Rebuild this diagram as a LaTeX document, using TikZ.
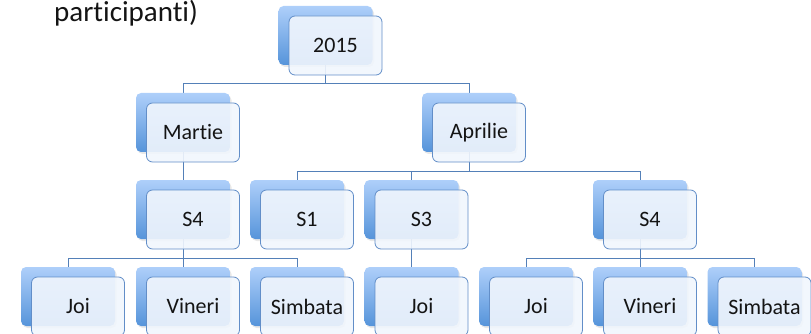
\documentclass[tikz,border=0pt]{standalone}
\usepackage{fontspec}
\setmainfont[Ligatures=NoCommon]{Carlito}
\usetikzlibrary{shadows}
\pgfdeclarelayer{bg}
\pgfsetlayers{bg,main}
\definecolor{backtop}{RGB}{174,207,250}
\definecolor{backbot}{RGB}{86,148,218}
\definecolor{frontfill}{RGB}{241,246,253}
\definecolor{frontline}{RGB}{98,142,200}
\definecolor{connline}{RGB}{84,128,184}
\definecolor{txt}{RGB}{20,20,20}
\tikzset{
  backbox/.style={rounded corners=5pt, minimum width=94pt, minimum height=59pt,
    top color=backtop, bottom color=backbot, inner sep=0pt,
    drop shadow={opacity=0.18, shadow xshift=1.5pt, shadow yshift=-2pt}},
  frontbox/.style={draw=frontline, line width=0.8pt, rounded corners=6pt,
    minimum width=93pt, minimum height=59pt, fill=frontfill, fill opacity=0.9,
    text opacity=1, text=txt, font=\fontsize{22}{26}\selectfont, inner sep=0pt},
  conn/.style={draw=connline, line width=0.9pt},
}
% one entry of the chart: shaded back card plus the labelled front card
\newcommand\orgcard[4]{%
  \node[backbox] (#1-b) at (#2,#3) {};
  \node[frontbox] (#1) at (#2+10,#3+10) {#4};
}
\begin{document}
\begin{tikzpicture}[x=1pt,y=-1pt]
\useasboundingbox (0,0) rectangle (811,334);
\clip (0,0) rectangle (811,334);

\node[anchor=base west, inner sep=0pt, text=txt, font=\fontsize{29}{34}\selectfont] (title) at (54,22) {participanti)};

% level 1
\orgcard{y2015}{325.5}{35.5}{2015}
% level 2
\orgcard{mar}{183}{122.5}{Martie}
\orgcard{apr}{469}{122.5}{Aprilie}
% level 3
\orgcard{ms4}{183}{209.5}{S4}
\orgcard{as1}{297}{209.5}{S1}
\orgcard{as3}{411.5}{209.5}{S3}
\orgcard{as4}{640}{209.5}{S4}
% level 4
\orgcard{mjoi}{68}{296.5}{Joi}
\orgcard{mvin}{183}{296.5}{Vineri}
\orgcard{msim}{297}{296.5}{Simbata}
\orgcard{s3joi}{411.5}{296.5}{Joi}
\orgcard{s4joi}{526}{296.5}{Joi}
\orgcard{s4vin}{640}{296.5}{Vineri}
\orgcard{s4sim}{754.5}{296.5}{Simbata}

\begin{pgfonlayer}{bg}
  \draw[conn] (y2015-b.south) -- (y2015-b.south |- 0,83) -| (mar-b.north);
  \draw[conn] (y2015-b.south) -- (y2015-b.south |- 0,83) -| (apr-b.north);
  \draw[conn] (mar-b.south) -- (ms4-b.north);
  \draw[conn] (apr-b.south) -- (apr-b.south |- 0,171) -| (as1-b.north);
  \draw[conn] (apr-b.south) -- (apr-b.south |- 0,171) -| (as3-b.north);
  \draw[conn] (apr-b.south) -- (apr-b.south |- 0,171) -| (as4-b.north);
  \draw[conn] (ms4-b.south) -- (ms4-b.south |- 0,258) -| (mjoi-b.north);
  \draw[conn] (ms4-b.south) -- (mvin-b.north);
  \draw[conn] (ms4-b.south) -- (ms4-b.south |- 0,258) -| (msim-b.north);
  \draw[conn] (as3-b.south) -- (s3joi-b.north);
  \draw[conn] (as4-b.south) -- (as4-b.south |- 0,258) -| (s4joi-b.north);
  \draw[conn] (as4-b.south) -- (s4vin-b.north);
  \draw[conn] (as4-b.south) -- (as4-b.south |- 0,258) -| (s4sim-b.north);
\end{pgfonlayer}
\end{tikzpicture}
\end{document}
